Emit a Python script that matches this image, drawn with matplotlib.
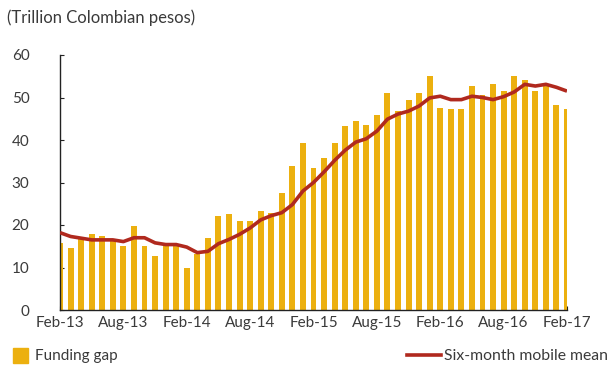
import numpy as np
import matplotlib
matplotlib.use("Agg")
import matplotlib.pyplot as plt

# -----------------------------
# Data (trillion COP), monthly Feb-13 .. Feb-17
# -----------------------------
funding_gap = [
    15.8, 14.6, 16.8, 17.8, 17.3, 16.6, 15.0, 19.7, 15.0, 12.7, 15.3, 15.2,
    9.9, 13.2, 17.0, 22.1, 22.5, 20.9, 20.9, 23.3, 22.9, 27.6, 33.9, 39.3,
    33.5, 35.8, 39.3, 43.2, 44.4, 43.6, 46.0, 51.1, 46.8, 49.5, 51.1, 55.0,
    47.6, 47.2, 47.2, 52.7, 50.7, 53.1, 51.5, 55.0, 54.2, 51.5, 53.0, 48.3,
    47.2,
]
mobile_mean = [
    18.2, 17.3, 16.9, 16.5, 16.5, 16.5, 16.1, 17.0, 17.0, 15.8, 15.4, 15.4,
    14.8, 13.5, 13.8, 15.6, 16.6, 17.8, 19.3, 21.2, 22.2, 22.9, 24.8, 28.0,
    30.0, 32.5, 35.2, 37.6, 39.5, 40.3, 42.1, 44.9, 46.1, 46.8, 48.0, 49.9,
    50.3, 49.5, 49.5, 50.3, 50.0, 49.5, 50.2, 51.3, 53.1, 52.7, 53.1, 52.4,
    51.5,
]
tick_labels = ["Feb-13", "Aug-13", "Feb-14", "Aug-14", "Feb-15",
               "Aug-15", "Feb-16", "Aug-16", "Feb-17"]

BAR_COLOR = "#ECB00F"
LINE_COLOR = "#B0291E"
TEXT_COLOR = "#3a3a3a"

plt.rcParams["font.family"] = ["Lato", "DejaVu Sans"]

x = np.arange(len(funding_gap))

fig = plt.figure(figsize=(6.08, 3.65), dpi=100)
ax = fig.add_axes([60 / 608, 1 - 310 / 365, 507 / 608, 255 / 365])

ax.bar(x, funding_gap, width=0.56, color=BAR_COLOR, zorder=2)
ax.plot(x, mobile_mean, color=LINE_COLOR, linewidth=2.6, zorder=3,
        solid_capstyle="butt")

ax.set_xlim(0, len(funding_gap) - 1)
ax.set_ylim(0, 60)
ax.set_yticks(range(0, 61, 10))
ax.set_xticks(x[::6])
ax.set_xticklabels(tick_labels)

for side in ("top", "right"):
    ax.spines[side].set_visible(False)
for side in ("left", "bottom"):
    ax.spines[side].set_color("#222222")
    ax.spines[side].set_linewidth(1.0)

ax.tick_params(axis="x", direction="in", length=3, width=0.8, color="#222222",
               labelsize=11, labelcolor=TEXT_COLOR, pad=4)
ax.tick_params(axis="y", direction="in", length=3, width=0.8, color="#222222",
               labelsize=11, labelcolor=TEXT_COLOR, pad=22)

fig.text(7 / 608, 1 - 18 / 365, "(Trillion Colombian pesos)", fontsize=12,
         color=TEXT_COLOR, va="center", ha="left")

# legend drawn by hand at the bottom
fig.patches.append(plt.Rectangle((13 / 608, 1 - 363 / 365), 15 / 608, 15 / 365,
                                 transform=fig.transFigure, color=BAR_COLOR))
fig.text(35 / 608, 1 - 356 / 365, "Funding gap", fontsize=11,
         color=TEXT_COLOR, va="center", ha="left")
fig.lines.append(plt.Line2D([407 / 608, 441 / 608], [1 - 355 / 365] * 2,
                            transform=fig.transFigure, color=LINE_COLOR,
                            linewidth=2.6))
fig.text(444 / 608, 1 - 356 / 365, "Six-month mobile mean", fontsize=11.3,
         color=TEXT_COLOR, va="center", ha="left")

fig.savefig("out.png", dpi=100)
